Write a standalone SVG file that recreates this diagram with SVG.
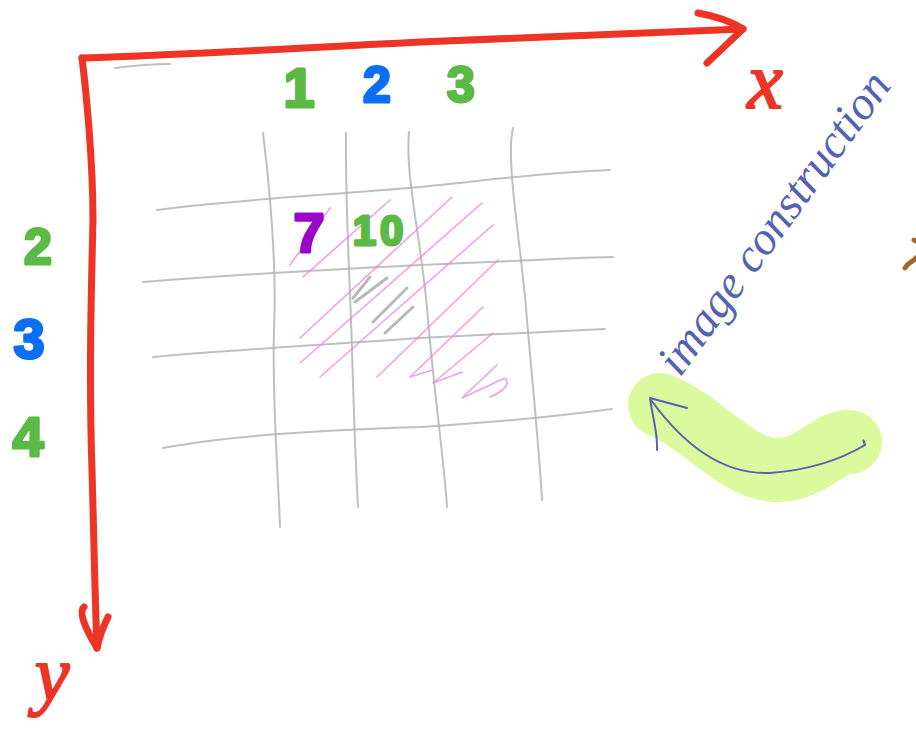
<svg xmlns="http://www.w3.org/2000/svg" width="916" height="743" viewBox="0 0 916 743">
<style>
.axis{fill:none;stroke:#ee3426;stroke-width:7;stroke-linecap:round;stroke-linejoin:round}
.grid{fill:none;stroke:#b4b4b4;stroke-width:2;stroke-linecap:round;opacity:.85}
.hatch{fill:none;stroke:#ec7fe0;stroke-width:1.6;stroke-linecap:round;stroke-linejoin:round;opacity:.75}
.scrib{fill:none;stroke:#9a9a9a;stroke-width:3;stroke-linecap:round;opacity:.7}
.num{font-family:"Liberation Sans","DejaVu Sans",sans-serif;font-weight:bold;text-anchor:middle;stroke-width:3;stroke-linejoin:round}
.g{fill:#5cb946;stroke:#5cb946}
.b{fill:#0a6ff5;stroke:#0a6ff5}
.p{fill:#9b06c8;stroke:#9b06c8}
.lbl{font-family:"Liberation Serif","DejaVu Serif",serif;font-style:italic;fill:#ee3426;stroke:#ee3426;stroke-width:2;text-anchor:middle}
.note{fill:none;stroke:#5562b2;stroke-width:2;stroke-linecap:round;stroke-linejoin:round}
</style>

<g id="highlight">
<path d="M660,405 C700,420 735,468 775,470 C810,472 830,440 850,442" fill="none" stroke="#dbfa9e" stroke-width="64" stroke-linecap="round" stroke-linejoin="round"/>
</g>

<g id="grid">
<path class="grid" d="M263,133 C270,190 277,260 274,330 C272,400 278,470 280,527"/>
<path class="grid" d="M346,133 C345,200 350,280 352,350 C354,420 356,470 358,507"/>
<path class="grid" d="M409,132 C405,180 422,240 428,320 C436,410 444,460 447,507"/>
<path class="grid" d="M513,128 C505,160 522,250 527,320 C534,400 540,460 542,500"/>
<path class="grid" d="M157,210 C230,200 330,195 420,187 C490,180 550,172 610,170"/>
<path class="grid" d="M143,282 C230,275 320,270 420,265 C500,262 560,258 613,257"/>
<path class="grid" d="M153,357 C230,350 320,345 420,338 C500,334 560,331 605,329"/>
<path class="grid" d="M163,448 C220,437 320,430 420,427 C500,422 560,416 612,409"/>
<path class="grid" d="M115,68 C130,66 150,64 170,64"/>
</g>

<g id="hatching">
<path class="hatch" d="M290,265 L330,208"/>
<path class="hatch" d="M303,277 L390,200"/>
<path class="hatch" d="M300,338 L452,197"/>
<path class="hatch" d="M300,363 L482,203" stroke-width="2.2"/>
<path class="hatch" d="M320,377 L493,225"/>
<path class="hatch" d="M377,377 L498,260"/>
<path class="hatch" d="M410,377 L483,307 M410,377 L432,370"/>
<path class="hatch" d="M433,383 L493,333 M433,383 L462,372"/>
<path class="hatch" d="M462,398 L497,365 M462,398 L505,378 C512,385 500,393 490,397"/>
</g>

<g id="shade">
<path class="scrib" d="M353,298 L370,277"/>
<path class="scrib" d="M355,302 L387,278"/>
<path class="scrib" d="M373,322 L407,288"/>
<path class="scrib" d="M385,333 L413,307"/>
</g>

<g id="connectors">
<path class="axis" d="M82,58 C200,54 300,48 420,42 C550,36 650,32 743,29"/>
<path class="axis" d="M698,13 C715,16 732,22 743,29 L707,63"/>
<path class="axis" d="M82,58 C86,90 93,160 93,220 C91,300 89,380 92,470 C94,540 95,600 97,648"/>
<path class="axis" d="M84,607 C78,612 86,630 97,648 C100,635 104,625 108,617"/>
<path class="note" d="M865,445 C862,438 864,440 865,445 C840,460 810,470 770,473 C720,475 680,440 651,400"/>
<path class="note" d="M650,398 L687,408 M650,398 C652,415 658,432 657,450"/>
</g>

<g id="x-label"><text class="lbl" x="765" y="108" font-size="80">x</text></g>
<g id="y-label"><text class="lbl" x="52" y="700" font-size="78">y</text></g>

<g id="col-1"><text class="num g" x="299" y="107" font-size="56">1</text></g>
<g id="col-2"><text class="num b" x="377" y="102" font-size="50">2</text></g>
<g id="col-3"><text class="num g" x="461" y="102" font-size="50">3</text></g>
<g id="row-2"><text class="num g" x="38" y="264" font-size="50">2</text></g>
<g id="row-3"><text class="num b" x="29" y="358" font-size="56">3</text></g>
<g id="row-4"><text class="num g" x="28" y="456" font-size="56">4</text></g>
<g id="val-7"><text class="num p" x="309" y="252" font-size="56">7</text></g>
<g id="val-10"><text class="num g" x="380" y="245" font-size="42" letter-spacing="4">10</text></g>

<g id="note-label"><text x="680" y="378" transform="rotate(-54 680 378)" font-family="Liberation Serif, DejaVu Serif, serif" font-style="italic" font-size="47" fill="#5562b2">image construction</text></g>

<g id="edge-marks">
<path d="M905,268 C908,262 913,262 916,258 M914,240 L916,241" fill="none" stroke="#a0672f" stroke-width="5" stroke-linecap="round"/>
</g>
</svg>
